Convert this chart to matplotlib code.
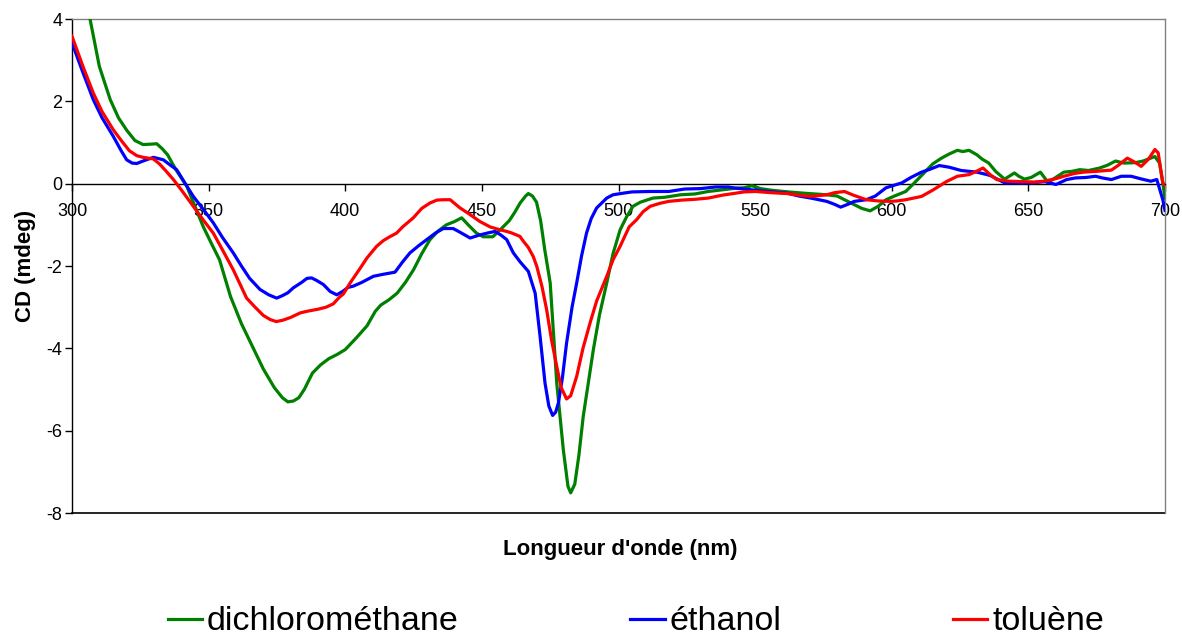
from matplotlib import pyplot as plt
import numpy as np

plt.rcParams["font.family"] = ["Liberation Sans", "DejaVu Sans"]
plt.rcParams["axes.unicode_minus"] = False

# CD spectra (mdeg) vs wavelength (nm) in three solvents
dcm_nm = [300, 303, 306.6, 310, 314, 317, 320, 323, 326, 329, 331, 333, 335, 338, 342, 345, 348, 351,
          354, 358, 362, 366, 370, 374, 377, 379, 381, 383, 385, 388, 391, 394, 397, 400, 404, 408,
          411, 413, 416, 419, 422, 425, 428, 431, 434, 437, 440, 442.6, 445, 448, 450.5, 454, 457,
          460, 462, 464, 466, 467, 468.5, 470, 471.5, 473, 475, 477.4, 479.8, 481.5, 482.5, 484,
          485.5, 487.1, 490.8, 493, 495.7, 498, 500.6, 503, 505.3, 508, 512.6, 517, 522.7, 528,
          532.8, 538, 543, 546, 548.8, 552, 556, 562, 567.6, 572, 576.2, 580, 583, 586.3, 589,
          592.1, 595, 597.9, 601, 605.1, 608, 612.4, 615, 618.2, 621, 624, 626, 628.3, 631.2, 633,
          635.5, 638, 641.3, 644.9, 646.5, 648.6, 651, 654.4, 657.2, 660, 663, 666, 668.8, 672,
          676.1, 679, 681.9, 685, 689.1, 692, 694, 696.3, 698, 699.2, 700]
dcm_cd = [5.6, 4.8, 4.0, 2.85, 2.04, 1.6, 1.3, 1.05, 0.95, 0.96, 0.97, 0.85, 0.7, 0.34, -0.06, -0.55,
          -1.04, -1.45, -1.85, -2.74, -3.4, -3.95, -4.5, -4.95, -5.2, -5.3, -5.28, -5.2, -5.0, -4.6,
          -4.4, -4.25, -4.15, -4.03, -3.75, -3.45, -3.1, -2.95, -2.82, -2.66, -2.4, -2.09, -1.7,
          -1.36, -1.15, -1.0, -0.92, -0.83, -1.0, -1.2, -1.29, -1.29, -1.1, -0.9, -0.7, -0.47, -0.3,
          -0.24, -0.3, -0.45, -0.9, -1.6, -2.41, -4.84, -6.46, -7.35, -7.51, -7.3, -6.6, -5.65,
          -4.03, -3.2, -2.41, -1.7, -1.12, -0.8, -0.55, -0.45, -0.35, -0.33, -0.27, -0.25, -0.19,
          -0.15, -0.11, -0.1, -0.05, -0.12, -0.16, -0.2, -0.23, -0.25, -0.27, -0.3, -0.4, -0.51,
          -0.6, -0.66, -0.55, -0.39, -0.3, -0.19, 0.0, 0.3, 0.48, 0.62, 0.72, 0.81, 0.78, 0.81, 0.7,
          0.6, 0.5, 0.3, 0.11, 0.26, 0.18, 0.11, 0.15, 0.28, 0.03, 0.15, 0.28, 0.3, 0.34, 0.32,
          0.38, 0.45, 0.55, 0.5, 0.51, 0.55, 0.6, 0.66, 0.5, 0.02, -0.35]

eth_nm = [300, 304, 307.8, 311, 315.1, 318, 320, 322, 323.7, 326, 329.8, 333.4, 336, 338.3, 341,
          344.4, 348, 351.7, 355, 359, 362, 365, 368.8, 372, 374.9, 377, 379, 381, 384, 386, 387.7,
          389.5, 392, 394.5, 396.9, 399, 401, 402.9, 406, 410.3, 414, 418.2, 421, 423.7, 427, 429.8,
          433, 435.9, 439.5, 442, 445.7, 449, 452, 454.8, 457, 459.1, 461.5, 464, 467, 469.5, 471.3,
          473.1, 474.5, 475.9, 477, 478, 479.5, 481, 483, 484.7, 486.5, 488.3, 490, 492, 495.7, 498,
          501.8, 505, 511.6, 518.4, 524.2, 530, 535.7, 540, 543, 550.2, 556, 561.7, 566, 570.4,
          576.2, 579, 581.3, 584, 586.3, 590.7, 594, 597.9, 603.7, 607, 610.9, 614, 617.4, 621,
          625.4, 631.2, 636, 641.3, 646, 651.4, 656, 660.1, 664, 667.3, 671, 674.6, 677, 680.4, 684,
          687.6, 691, 694.8, 697, 699.2, 700]
eth_cd = [3.42, 2.7, 2.04, 1.6, 1.15, 0.8, 0.58, 0.5, 0.49, 0.55, 0.64, 0.58, 0.45, 0.34, 0.05,
          -0.31, -0.62, -0.95, -1.3, -1.68, -2.0, -2.3, -2.57, -2.7, -2.78, -2.72, -2.65, -2.53,
          -2.4, -2.3, -2.29, -2.35, -2.45, -2.62, -2.7, -2.62, -2.52, -2.49, -2.4, -2.25, -2.2,
          -2.15, -1.9, -1.68, -1.5, -1.36, -1.2, -1.09, -1.09, -1.18, -1.32, -1.25, -1.2, -1.16,
          -1.25, -1.36, -1.68, -1.9, -2.13, -2.66, -3.71, -4.84, -5.4, -5.63, -5.55, -5.33, -4.7,
          -3.87, -3.0, -2.41, -1.75, -1.2, -0.85, -0.59, -0.35, -0.27, -0.23, -0.2, -0.19, -0.19,
          -0.13, -0.12, -0.08, -0.08, -0.11, -0.16, -0.2, -0.23, -0.3, -0.35, -0.43, -0.5, -0.57,
          -0.5, -0.43, -0.39, -0.3, -0.1, 0.02, 0.15, 0.28, 0.35, 0.44, 0.4, 0.32, 0.28, 0.2, 0.02,
          0.02, 0.02, 0.05, -0.02, 0.1, 0.14, 0.15, 0.18, 0.14, 0.1, 0.18, 0.18, 0.12, 0.06, 0.1,
          -0.39, -0.65]

tol_nm = [300, 304, 307.8, 311, 315.1, 318, 321, 323.7, 326, 329.8, 332, 334.5, 337.1, 340, 344.4,
          348, 351.7, 355, 359, 363.9, 367, 370, 372.5, 374.7, 377, 380, 383.5, 386, 390, 393,
          395.6, 398, 399.3, 401.8, 405, 408, 411.5, 414, 416, 418.8, 421, 424.9, 428, 431, 433.5,
          435.9, 438.4, 442, 445, 449.3, 453, 456.6, 459.1, 461, 463.9, 465.2, 467, 468.8, 470.1,
          472, 473.7, 475.5, 477.4, 479, 481, 482.5, 484.7, 487, 489.6, 492, 495.7, 498, 500.6,
          503.9, 506.7, 509, 511.6, 515, 518.4, 523, 528, 532.8, 538, 543, 546, 550.2, 556, 561.7,
          566, 570.4, 576.2, 579, 582.7, 586, 590.7, 595, 599.4, 602, 605.1, 610.9, 615.2, 620,
          624, 628.3, 631, 633.4, 636, 638.4, 642.7, 648, 652, 655.7, 660, 663, 667, 670.2, 675,
          680.4, 683, 686.2, 689, 691.3, 694, 696.3, 697.5, 699.2, 700]
tol_cd = [3.58, 2.85, 2.2, 1.75, 1.31, 1.05, 0.8, 0.68, 0.64, 0.6, 0.48, 0.3, 0.1, -0.15, -0.55,
          -0.88, -1.2, -1.6, -2.09, -2.78, -3.0, -3.2, -3.3, -3.35, -3.32, -3.25, -3.14, -3.1,
          -3.05, -3.0, -2.92, -2.75, -2.68, -2.41, -2.1, -1.8, -1.52, -1.38, -1.3, -1.2, -1.05,
          -0.83, -0.6, -0.47, -0.4, -0.39, -0.39, -0.59, -0.72, -0.92, -1.05, -1.12, -1.16, -1.2,
          -1.28, -1.4, -1.55, -1.77, -2.01, -2.5, -3.06, -3.8, -4.44, -4.95, -5.23, -5.15, -4.68,
          -4.0, -3.38, -2.85, -2.25, -1.85, -1.52, -1.05, -0.87, -0.68, -0.55, -0.48, -0.43, -0.4,
          -0.38, -0.35, -0.28, -0.23, -0.2, -0.19, -0.22, -0.24, -0.28, -0.31, -0.27, -0.22,
          -0.19, -0.28, -0.39, -0.42, -0.43, -0.42, -0.39, -0.31, -0.15, 0.05, 0.18, 0.22, 0.3,
          0.38, 0.22, 0.1, 0.06, 0.05, 0.04, 0.06, 0.12, 0.18, 0.25, 0.28, 0.3, 0.33, 0.45, 0.62,
          0.52, 0.42, 0.6, 0.83, 0.75, 0.02, -0.05]

x_ticks = [300, 350, 400, 450, 500, 550, 600, 650, 700]
y_ticks = [-8, -6, -4, -2, 0, 2, 4]

fig = plt.figure(figsize=(11.82, 6.39), dpi=100)
ax = fig.add_axes([72 / 1182, 1 - 513 / 639, 1093 / 1182, 494 / 639])

ax.plot(dcm_nm, dcm_cd, color="#008000", lw=2.3, zorder=3, label="dichlorométhane")
ax.plot(eth_nm, eth_cd, color="#0000FF", lw=2.3, zorder=3, label="éthanol")
ax.plot(tol_nm, tol_cd, color="#FF0000", lw=2.3, zorder=3, label="toluène")

ax.set_xlim(300, 700)
ax.set_ylim(-8, 4)
ax.set_xticks(x_ticks)
ax.set_yticks(y_ticks)

# x axis crosses at zero, plot-area border kept around the frame
ax.spines["bottom"].set_position(("data", 0))
ax.spines["bottom"].set_color("black")
ax.spines["left"].set_color("black")
ax.spines["top"].set_color("#808080")
ax.spines["right"].set_color("#808080")
for s in ax.spines.values():
    s.set_linewidth(1.0)
ax.plot([0, 1], [0, 0], transform=ax.transAxes, color="black", lw=1.2, clip_on=False, zorder=2.5)

ax.tick_params(axis="x", direction="out", length=5, width=1, pad=9, labelsize=13)
ax.tick_params(axis="y", direction="out", length=5, width=1, pad=2, labelsize=13)

fig.text(620 / 1182, 1 - 549 / 639, "Longueur d'onde (nm)", ha="center", va="center",
         fontsize=16, fontweight="bold")
fig.text(25 / 1182, 1 - 266 / 639, "CD (mdeg)", ha="center", va="center", rotation=90,
         fontsize=16, fontweight="bold")

fig.legend(loc="center", bbox_to_anchor=(636 / 1182, 1 - 622 / 639), ncol=3, frameon=False,
           fontsize=24.5, handlelength=1.0, handletextpad=0.15, columnspacing=5.05)

fig.savefig("out.png", dpi=100)
